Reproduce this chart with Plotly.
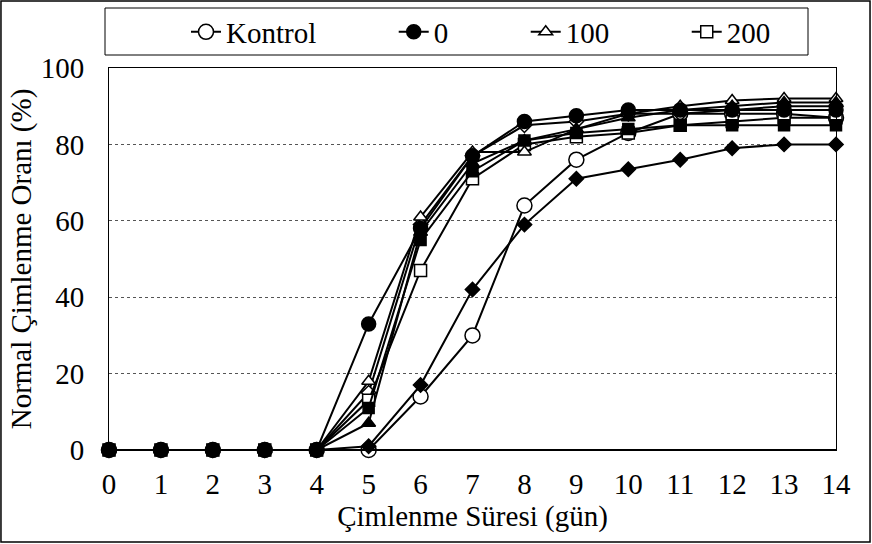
import plotly.graph_objects as go

days = list(range(0, 15))

kontrol = [0, 0, 0, 0, 0, 0, 14, 30, 64, 76, 83, 88, 88, 88, 87]
s0 = [0, 0, 0, 0, 0, 33, 58, 77, 86, 87.5, 89, 89, 89, 89, 89]
s100 = [0, 0, 0, 0, 0, 18, 61, 78, 78, 84, 88, 90, 91.5, 92, 92]
s200 = [0, 0, 0, 0, 0, 13, 47, 71, 80, 82, 83, 85, 86, 87, 87]
extra_diamond = [0, 0, 0, 0, 0, 1, 17, 42, 59, 71, 73.5, 76, 79, 80, 80]
extra_tri = [0, 0, 0, 0, 0, 7, 57, 75, 81, 84, 87, 89, 90, 91, 91]
extra_sq = [0, 0, 0, 0, 0, 11, 55, 73, 81, 83, 84, 85, 85, 85, 85]
extra_odiam = [0, 0, 0, 0, 0, 15, 59, 77, 85, 86, 88, 88, 89, 90, 90]

y_ticks = [0, 20, 40, 60, 80, 100]

FONT = "'Liberation Serif', 'Times New Roman', serif"
FS = 29
PAD = "\u00a0" * 10
fig = go.Figure()

def add(y, name, symbol, size, show, fill="black", rank=1000):
    fig.add_trace(go.Scatter(
        x=days, y=y, name=name, mode="lines+markers",
        line=dict(color="black", width=2),
        marker=dict(symbol=symbol, size=size, color=fill,
                    line=dict(color="black", width=1.5)),
        showlegend=show, legendrank=rank, cliponaxis=False))

add(kontrol, "Kontrol" + PAD, "circle", 15, True, "white", 1)
add(extra_diamond, "d", "diamond", 11, False)
add(extra_odiam, "od", "diamond", 11, False, "white")
add(s200, "200", "square", 12, True, "white", 4)
add(s100, "100" + PAD, "triangle-up", 12, True, "white", 3)
add(extra_sq, "s", "square", 11, False)
add(extra_tri, "t", "triangle-up", 12, False)
add(s0, "0" + PAD, "circle", 14, True, "black", 2)

fig.update_layout(
    width=872, height=544,
    margin=dict(l=109, r=36, t=68, b=94, autoexpand=False),
    paper_bgcolor="white", plot_bgcolor="white",
    font=dict(family=FONT, size=FS, color="black"),
    legend=dict(orientation="h", xref="container", yref="container",
                x=186 / 872, xanchor="left", y=(544 - 32) / 544, yanchor="middle",
                font=dict(family=FONT, size=FS), bgcolor="rgba(0,0,0,0)",
                itemwidth=30, traceorder="normal"),
    xaxis=dict(range=[0, 14], tickmode="array", tickvals=days, showgrid=False,
               showline=True, linecolor="black", linewidth=1, mirror=True,
               ticks="", zeroline=False, ticklabelstandoff=8,
               tickfont=dict(family=FONT, size=FS),
               title=dict(text="Çimlenme Süresi (gün)", font=dict(family=FONT, size=FS), standoff=6)),
    yaxis=dict(range=[0, 100], tickvals=y_ticks, showgrid=True, gridcolor="#555",
               griddash="dot", gridwidth=1, showline=True, linecolor="black", linewidth=1,
               mirror=True, ticks="", zeroline=False, ticklabelstandoff=18,
               tickfont=dict(family=FONT, size=FS),
               title=dict(text="Normal Çimlenme Oranı (%)", font=dict(family=FONT, size=FS), standoff=0)),
    shapes=[
        dict(type="rect", xref="paper", yref="paper", x0=-0.1486, x1=1.0468, y0=-0.2408, y1=1.1754,
             line=dict(color="black", width=1.5)),
        dict(type="rect", xref="paper", yref="paper", x0=(105 - 109) / 727, x1=(808 - 109) / 727,
             y0=(450 - 55) / 382, y1=(450 - 8) / 382, line=dict(color="black", width=1)),
        dict(type="line", xref="paper", yref="y", x0=0, x1=1, y0=0, y1=0,
             line=dict(color="black", width=2)),
    ],
)

fig.write_html("out.html", config={"displayModeBar": False},
               post_script="document.body.style.margin='0';")
